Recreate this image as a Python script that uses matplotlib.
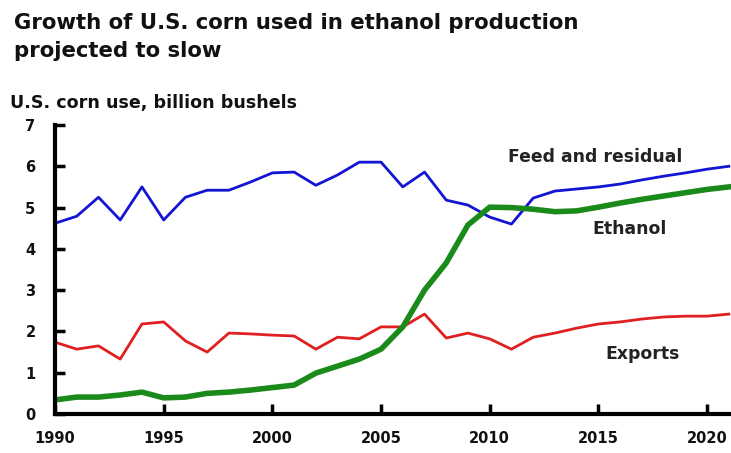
import matplotlib
matplotlib.use("Agg")
import matplotlib.pyplot as plt

years = list(range(1990, 2022))
feed = [4.62, 4.79, 5.25, 4.70, 5.50, 4.70, 5.25, 5.42, 5.42, 5.62, 5.84,
        5.86, 5.54, 5.79, 6.10, 6.10, 5.50, 5.86, 5.18, 5.06, 4.77,
        4.60, 5.23, 5.40, 5.45, 5.50, 5.57, 5.67, 5.76, 5.84, 5.93, 6.00]
exports = [1.74, 1.57, 1.65, 1.33, 2.18, 2.23, 1.77, 1.50, 1.96, 1.94, 1.91,
           1.89, 1.57, 1.86, 1.82, 2.11, 2.11, 2.42, 1.84, 1.96, 1.82,
           1.57, 1.86, 1.96, 2.08, 2.18, 2.23, 2.30, 2.35, 2.37, 2.37, 2.42]
ethanol = [0.34, 0.41, 0.41, 0.46, 0.53, 0.39, 0.41, 0.50, 0.53, 0.58, 0.64,
           0.70, 0.99, 1.16, 1.33, 1.57, 2.11, 3.00, 3.66, 4.58, 5.01,
           5.00, 4.96, 4.90, 4.92, 5.01, 5.11, 5.20, 5.28, 5.36, 5.44, 5.50]
xticks = [1990, 1995, 2000, 2005, 2010, 2015, 2020]
yticks = [0, 1, 2, 3, 4, 5, 6, 7]

plt.rcParams['font.family'] = ['DejaVu Sans']
fig = plt.figure(figsize=(7.31, 4.53), dpi=100)
ax = fig.add_axes([55/731, 1 - 414/453, 1 - 55/731, (414 - 125)/453])

ax.plot(years, feed, color='#1414d4', lw=2.0)
ax.plot(years, exports, color='#e02020', lw=2.0)
ax.plot(years, ethanol, color='#1a8a1a', lw=4.0)

ax.set_xlim(1990, 2021.1)
ax.set_ylim(0, 7)
ax.set_xticks(xticks)
ax.set_yticks(yticks)
for s in ['top', 'right']:
    ax.spines[s].set_visible(False)
for s in ['left', 'bottom']:
    ax.spines[s].set_linewidth(3)
    ax.spines[s].set_color('black')
ax.tick_params(direction='in', length=7, width=2.5, labelsize=10.5, pad=12,
               labelcolor='#111111')
for lab in ax.get_xticklabels() + ax.get_yticklabels():
    lab.set_fontweight('bold')
ax.tick_params(axis='y', pad=14)

ax.text(2010.85, 6.22, 'Feed and residual', fontsize=12.4, fontweight='bold', va='center', ha='left', color='#222222')
ax.text(2014.7, 4.48, 'Ethanol', fontsize=12.4, fontweight='bold', va='center', ha='left', color='#222222')
ax.text(2015.3, 1.45, 'Exports', fontsize=12.4, fontweight='bold', va='center', ha='left', color='#222222')

fig.text(14/731, 1 - 37/453, 'Growth of U.S. corn used in ethanol production\nprojected to slow',
         fontsize=15.3, fontweight='bold', va='center', ha='left', linespacing=1.55, color='#111111')
fig.text(10/731, 1 - 103/453, 'U.S. corn use, billion bushels', fontsize=12.6,
         fontweight='bold', va='center', ha='left', color='#111111')

fig.savefig('out.png', dpi=100)
